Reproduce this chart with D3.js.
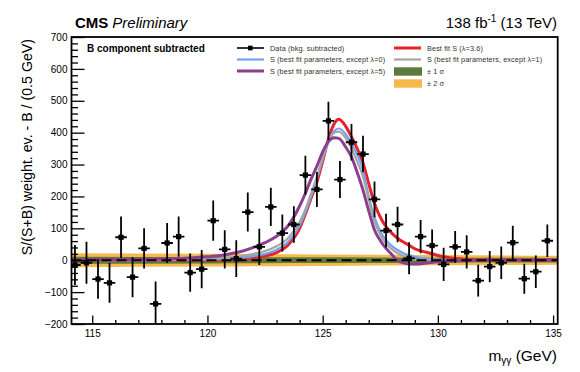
<!DOCTYPE html>
<html><head><meta charset="utf-8">
<script src="https://cdn.jsdelivr.net/npm/d3@7"></script>
<style>body{margin:0;background:#fff}svg{display:block;font-family:"Liberation Sans",Arial,Helvetica,sans-serif}</style>
</head><body><svg id="c" width="580" height="372"></svg>
<script>
// ---- data ----
const massBins = [114.25,114.75,115.25,115.75,116.25,116.75,117.25,117.75,118.25,118.75,119.25,119.75,120.25,120.75,121.25,121.75,122.25,122.75,123.25,123.75,124.25,124.75,125.25,125.75,126.25,126.75,127.25,127.75,128.25,128.75,129.25,129.75,130.25,130.75,131.25,131.75,132.25,132.75,133.25,133.75,134.25,134.75];
const dataValues = [-15,-8,-59,-71,72,-53,37,-137,54,74,-39,-28,124,34,5,151,42,167,85,112,267,222,437,253,370,333,191,93,112,6,74,46,-13,42,26,-64,-20,-8,55,-58,-36,61];
const dataErrors = [63,66,62,62,65,63,63,70,63,63,60,60,63,60,58,61,57,60,58,57,61,55,60,58,57,57,56,53,56,50,52,50,52,50,52,50,49,51,53,47,51,51];
const curveMass = [114,116,118,119,120,120.5,121,121.5,122,122.5,123,123.5,124,124.25,124.5,124.75,125,125.25,125.5,125.7,126,126.25,126.5,126.75,127,127.25,127.5,127.75,128,128.25,128.5,128.75,129,129.5,130,130.5,131,132,135.2];
const bestFitS = [0,0,0,0,1,1,2,4,7,13,24,48,100,145,195,245,310,380,428,442,420,387,350,305,240,178,135,105,85,69,57,47,36,25,15,8,4,1,0];
const lambda0S = [0,0,0,1,2,3,5,8,13,20,33,58,108,150,200,255,315,372,405,413,395,365,330,283,200,135,90,63,45,32,22,16,11,5,2,1,0,0,0];
const lambda1S = [0,0,1,2,4,6,9,13,20,29,44,70,120,160,210,262,322,372,400,403,383,350,310,262,190,122,80,53,35,22,13,6,2,0,0,0,0,0,0];
const lambda5S = [1,2,4,6,11,14,20,28,40,55,75,108,170,210,255,295,340,372,384,382,355,324,275,220,155,95,62,37,18,-2,-8,-12,-12,-9,-5,-3,-1,0,0];
const bandMass = [114.1,120,125,130,135.2];
const band1Sigma = [11,10,9,8,7];
const band2Sigma = [22,20,18,16,14];
const xTicks = [115,120,125,130,135];
const yTicks = [-200,-100,0,100,200,300,400,500,600,700];
const legendLabels = ["Data (bkg. subtracted)","Best fit S (\u03bb=3.6)","S (best fit parameters, except \u03bb=0)","S (best fit parameters, except \u03bb=1)","S (best fit parameters, except \u03bb=5)","\u00b1 1 \u03c3","\u00b1 2 \u03c3"];

// ---- layout ----
const svg = d3.select("#c");
const L = 71.5, R = 557.7, T = 37, B = 324;
const x = d3.scaleLinear().domain([114.1,135.2]).range([L,R]);
const y = d3.scaleLinear().domain([-200,700]).range([B,T]);
const C = {red:"#e8212b", blue:"#6fa3ee", grey:"#a5a5a5", purple:"#8c3f91", g1:"#5d7a3c", g2:"#f5b94c"};

svg.append("clipPath").attr("id","clip").append("rect").attr("x",L).attr("y",T).attr("width",R-L).attr("height",B-T);
const plot = svg.append("g").attr("clip-path","url(#clip)");

// bands
const bandPts = bandMass.map((m,i)=>({m, s1:band1Sigma[i], s2:band2Sigma[i]}));
plot.append("path").datum(bandPts).attr("fill",C.g2)
  .attr("d", d3.area().x(d=>x(d.m)).y0(d=>y(-d.s2)).y1(d=>y(d.s2)).curve(d3.curveMonotoneX));
plot.append("path").datum(bandPts).attr("fill",C.g1)
  .attr("d", d3.area().x(d=>x(d.m)).y0(d=>y(-d.s1)).y1(d=>y(d.s1)).curve(d3.curveMonotoneX));

// curves
const line = d3.line().x(d=>x(d[0])).y(d=>y(d[1])).curve(d3.curveMonotoneX);
const curves = [[bestFitS,C.red,3],[lambda0S,C.blue,2.2],[lambda1S,C.grey,2.2],[lambda5S,C.purple,3]];
curves.forEach(([vals,col,w])=>{
  plot.append("path").datum(curveMass.map((m,i)=>[m,vals[i]]))
    .attr("fill","none").attr("stroke",col).attr("stroke-width",w).attr("d",line);
});
// background (zero) dashed line
plot.append("line").attr("x1",L).attr("x2",R).attr("y1",y(0)).attr("y2",y(0))
  .attr("stroke","#000").attr("stroke-width",2).attr("stroke-dasharray","10,5");

// data
const pts = plot.append("g");
massBins.forEach((m,i)=>{
  const v = dataValues[i], e = dataErrors[i];
  pts.append("line").attr("x1",x(m)).attr("x2",x(m)).attr("y1",y(v-e)).attr("y2",y(v+e)).attr("stroke","#000").attr("stroke-width",1.8);
  pts.append("line").attr("x1",x(m-0.25)).attr("x2",x(m+0.25)).attr("y1",y(v)).attr("y2",y(v)).attr("stroke","#000").attr("stroke-width",1.8);
  pts.append("rect").attr("x",x(m)-2.6).attr("y",y(v)-2.6).attr("width",5.2).attr("height",5.2).attr("fill","#000");
});

// axes
const fmt = d => d<0 ? "\u2212"+Math.abs(d) : String(d);
const yMinor = d3.range(-200,701,20).filter(v=>v%100!==0);
const xMinor = d3.range(115,135.01,1).filter(v=>v%5!==0);
const ax = svg.append("g").attr("font-size",10.5);
const yAx = ax.append("g").attr("transform",`translate(${L},0)`)
  .call(d3.axisLeft(y).tickValues(yTicks).tickSize(-13).tickPadding(4).tickFormat(fmt));
ax.append("g").attr("transform",`translate(${L},0)`)
  .call(d3.axisLeft(y).tickValues(yMinor).tickSize(-6.5).tickFormat(""));
const xAx = ax.append("g").attr("transform",`translate(0,${B})`)
  .call(d3.axisBottom(x).tickValues(xTicks).tickSize(-8.5).tickPadding(5).tickFormat(d3.format("d")));
ax.append("g").attr("transform",`translate(0,${B})`)
  .call(d3.axisBottom(x).tickValues(xMinor).tickSize(-4).tickFormat(""));
ax.selectAll(".domain").remove();
ax.selectAll(".tick line").attr("stroke","#000").attr("stroke-width",1.3);
ax.selectAll("text").attr("font-family","Liberation Sans, Arial, sans-serif").attr("fill","#000");
xAx.selectAll("text").attr("dy","0.8em");
svg.append("rect").attr("x",L).attr("y",T).attr("width",R-L).attr("height",B-T)
  .attr("fill","none").attr("stroke","#000").attr("stroke-width",1.8);

// titles
const t1 = svg.append("text").attr("x",75).attr("y",28).attr("font-size",15);
t1.append("tspan").attr("font-weight","bold").text("CMS");
t1.append("tspan").attr("font-style","italic").attr("dx",4).text("Preliminary");
const t2 = svg.append("text").attr("x",557).attr("y",28).attr("font-size",15).attr("text-anchor","end");
t2.append("tspan").text("138 fb");
t2.append("tspan").attr("font-size",10).attr("dy",-6).text("-1");
t2.append("tspan").attr("dy",6).text(" (13 TeV)");
svg.append("text").attr("x",87).attr("y",52).attr("font-size",10).attr("font-weight","bold").text("B component subtracted");
svg.append("text").attr("transform",`translate(32,${T+2}) rotate(-90)`).attr("text-anchor","end").attr("font-size",14.2)
  .text("S/(S+B) weight. ev. - B / (0.5 GeV)");
const xt = svg.append("text").attr("x",557).attr("y",361).attr("font-size",15.5).attr("text-anchor","end");
xt.append("tspan").text("m");
xt.append("tspan").attr("font-size",10).attr("dy",3).text("\u03b3\u03b3");
xt.append("tspan").attr("dy",-3).text(" (GeV)");

// legend
const lg = svg.append("g").attr("font-size",7.3).attr("letter-spacing",0.1).attr("fill","#333");
const items = [
  {lab:0, kind:"data", cx:237, cy:48},
  {lab:1, kind:"line", col:C.red, w:3, cx:394, cy:48},
  {lab:2, kind:"line", col:C.blue, w:2.2, cx:237, cy:59.5},
  {lab:3, kind:"line", col:C.grey, w:2.2, cx:394, cy:59.5},
  {lab:4, kind:"line", col:C.purple, w:3, cx:237, cy:71},
  {lab:5, kind:"box", col:C.g1, cx:394, cy:71.5},
  {lab:6, kind:"box", col:C.g2, cx:394, cy:83.5}
];
items.forEach(it=>{
  if(it.kind==="box"){
    lg.append("rect").attr("x",it.cx).attr("y",it.cy-4.2).attr("width",28).attr("height",8.4).attr("fill",it.col);
  } else {
    lg.append("line").attr("x1",it.cx).attr("x2",it.cx+27).attr("y1",it.cy).attr("y2",it.cy)
      .attr("stroke",it.kind==="data"?"#000":it.col).attr("stroke-width",it.kind==="data"?1.6:it.w);
    if(it.kind==="data") lg.append("rect").attr("x",it.cx+11).attr("y",it.cy-2.3).attr("width",4.6).attr("height",4.6).attr("fill","#000");
  }
  lg.append("text").attr("x",it.cx+33).attr("y",it.cy+2.6).text(legendLabels[it.lab]);
});
</script></body></html>
